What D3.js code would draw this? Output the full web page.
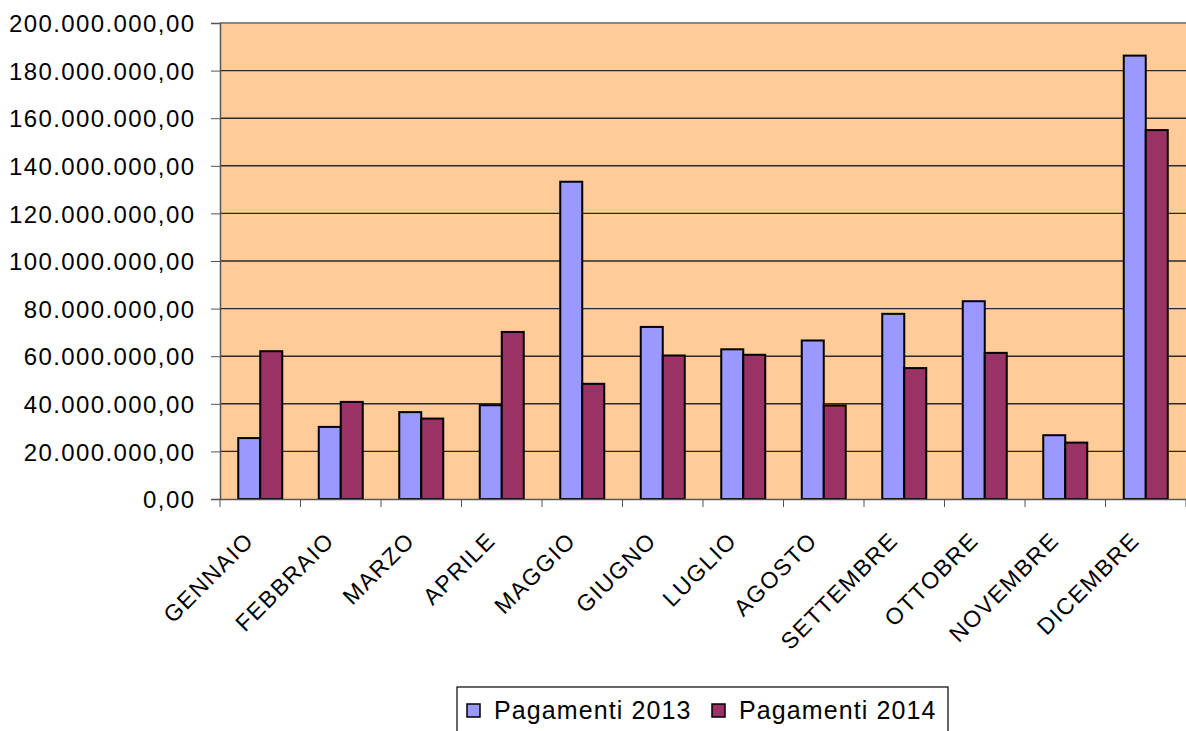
<!DOCTYPE html>
<html>
<head>
<meta charset="utf-8">
<script src="https://cdn.jsdelivr.net/npm/d3@7"></script>
<style>
  body { margin: 0; background: #fff; }
  text { font-family: "Liberation Sans", Arial, sans-serif; fill: #000; }
</style>
</head>
<body>
<div id="chart"></div>
<script>
// Dati (euro)
var mesi = ["GENNAIO", "FEBBRAIO", "MARZO", "APRILE", "MAGGIO", "GIUGNO",
            "LUGLIO", "AGOSTO", "SETTEMBRE", "OTTOBRE", "NOVEMBRE", "DICEMBRE"];
var serie = ["Pagamenti 2013", "Pagamenti 2014"];
var pag2013 = [25.6e6, 30.3e6, 36.5e6, 39.4e6, 133.3e6, 72.3e6, 62.9e6, 66.6e6, 77.8e6, 83.1e6, 26.8e6, 186.3e6];
var pag2014 = [62.1e6, 40.8e6, 33.8e6, 70.2e6, 48.4e6, 60.3e6, 60.6e6, 39.3e6, 55.0e6, 61.4e6, 23.7e6, 155.0e6];
var yTicks = [0, 20e6, 40e6, 60e6, 80e6, 100e6, 120e6, 140e6, 160e6, 180e6, 200e6];
var colori = ["#9999FF", "#993366"];

var svgWidth = 1186;
var svgHeight = 731;
var margin = { top: 23, right: 0, bottom: 232, left: 220 };
var width = svgWidth - margin.left - margin.right;
var height = svgHeight - margin.top - margin.bottom;
var ls = 1.4; // spaziatura lettere, il testo originale e' piu' largo

var svg = d3.select("#chart")
    .append("svg")
    .attr("width", svgWidth)
    .attr("height", svgHeight);

var chartGroup = svg.append("g")
    .attr("transform", `translate(${margin.left}, ${margin.top})`);

var data = mesi.map(function(m, i) {
    return { mese: m, valori: [pag2013[i], pag2014[i]] };
});

var xScale = d3.scaleBand()
    .domain(mesi)
    .range([0, width]);

var xInner = d3.scaleBand()
    .domain(serie)
    .range([0, 44]);

var yScale = d3.scaleLinear()
    .domain([0, 200e6])
    .range([height, 0]);

// formato italiano: 20.000.000,00
var itFormat = d3.formatLocale({ decimal: ",", thousands: ".", grouping: [3], currency: ["€", ""] }).format(",.2f");

// sfondo area grafico
chartGroup.append("rect")
    .attr("width", width)
    .attr("height", height)
    .attr("fill", "#FFCC99");

// griglia
chartGroup.selectAll(".grid")
    .data(yTicks.slice(1))
    .enter()
    .append("line")
    .attr("x1", 0)
    .attr("x2", width)
    .attr("y1", d => yScale(d))
    .attr("y2", d => yScale(d))
    .attr("stroke", d => d === 200e6 ? "#888" : "#2a2a2a")
    .attr("stroke-width", d => d === 200e6 ? 2 : 1.4);

// barre
var gruppi = chartGroup.selectAll(".mese")
    .data(data)
    .enter()
    .append("g")
    .attr("transform", d => `translate(${xScale(d.mese) + xScale.bandwidth() / 2 - 22}, 0)`);

gruppi.selectAll("rect")
    .data(d => d.valori.map((v, j) => ({ serie: serie[j], valore: v, j: j })))
    .enter()
    .append("rect")
    .attr("x", d => xInner(d.serie))
    .attr("y", d => yScale(d.valore))
    .attr("width", xInner.bandwidth())
    .attr("height", d => height - yScale(d.valore))
    .attr("fill", d => colori[d.j])
    .attr("stroke", "#000")
    .attr("stroke-width", 2);

// asse y
var leftAxis = d3.axisLeft(yScale)
    .tickValues(yTicks)
    .tickSize(9)
    .tickPadding(17 - ls)
    .tickFormat(itFormat);

var yAxisG = chartGroup.append("g").call(leftAxis);
yAxisG.select(".domain").attr("stroke", "#555").attr("stroke-width", 1.5);
yAxisG.selectAll(".tick line").attr("stroke", "#555");
yAxisG.selectAll("text")
    .attr("font-family", null)
    .style("font-size", "24px")
    .style("letter-spacing", ls + "px")
    .attr("dy", "0.36em");

// asse x
var bottomAxis = d3.axisBottom(xScale).tickSize(0).tickFormat("");
var xAxisG = chartGroup.append("g")
    .attr("transform", `translate(0, ${height})`)
    .call(bottomAxis);
xAxisG.select(".domain").attr("stroke", "#555").attr("stroke-width", 1.5);

chartGroup.selectAll(".xtick")
    .data(d3.range(mesi.length + 1))
    .enter()
    .append("line")
    .attr("x1", i => i * xScale.step())
    .attr("x2", i => i * xScale.step())
    .attr("y1", height)
    .attr("y2", height + 8)
    .attr("stroke", "#555");

chartGroup.selectAll(".xlabel")
    .data(mesi)
    .enter()
    .append("text")
    .attr("transform", d => `translate(${xScale(d) + xScale.bandwidth() / 2 - 6}, ${height + 44}) rotate(-45)`)
    .attr("dx", 1.5)
    .style("font-size", "23px")
    .style("letter-spacing", "1.5px")
    .style("text-anchor", "end")
    .text(d => d);

// legenda
var legend = svg.append("g").attr("transform", "translate(457, 687)");
legend.append("rect")
    .attr("width", 491)
    .attr("height", 50)
    .attr("fill", "#fff")
    .attr("stroke", "#000")
    .attr("stroke-width", 1.2);

var legendX = [10, 255];
serie.forEach(function(s, i) {
    legend.append("rect")
        .attr("x", legendX[i])
        .attr("y", 17)
        .attr("width", 13)
        .attr("height", 13)
        .attr("fill", colori[i])
        .attr("stroke", "#000")
        .attr("stroke-width", 1.5);
    legend.append("text")
        .attr("x", legendX[i] + 27)
        .attr("y", 32)
        .style("font-size", "25px")
        .style("letter-spacing", "1.1px")
        .text(s);
});
</script>
</body>
</html>
